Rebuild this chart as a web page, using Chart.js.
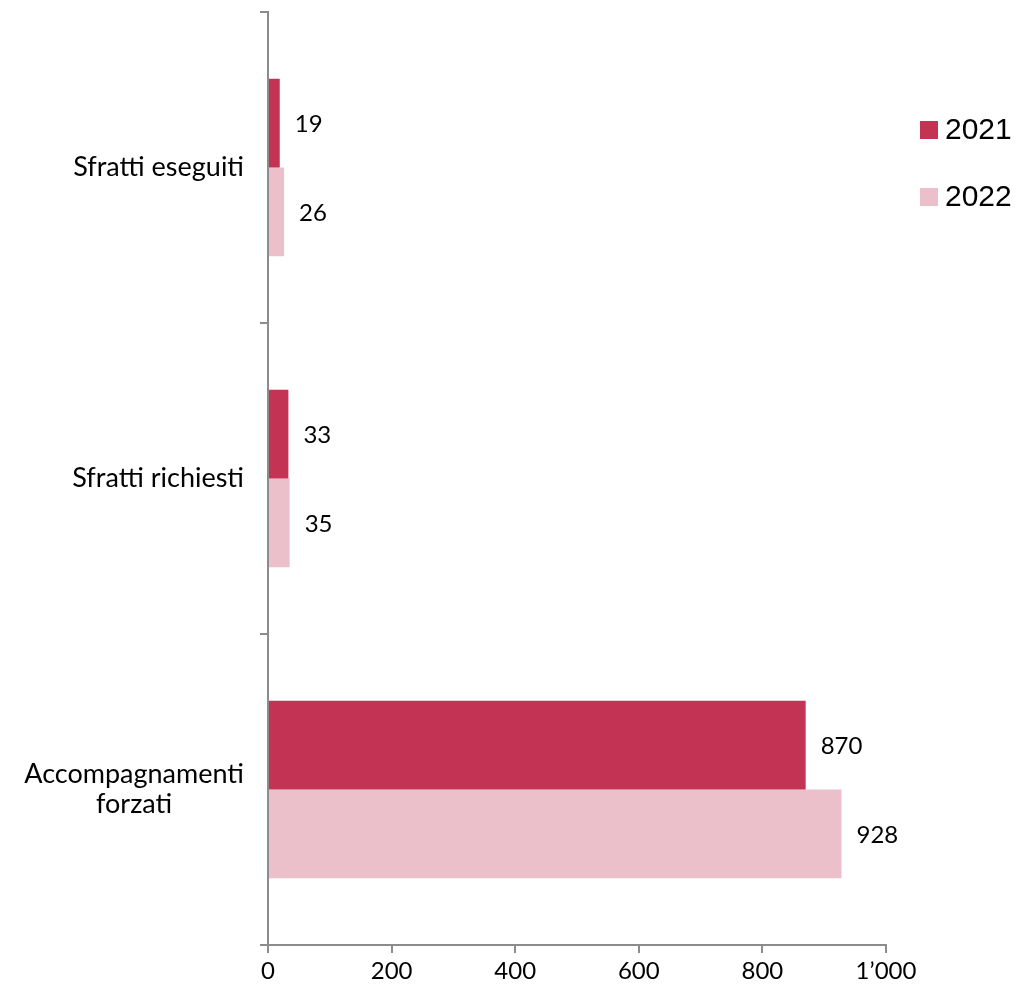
<!DOCTYPE html>
<html>
<head>
<meta charset="utf-8">
<script src="https://cdn.jsdelivr.net/npm/chart.js@4/dist/chart.umd.min.js"></script>
<style>
  html, body { margin: 0; padding: 0; background: #fff; }
  #wrap { width: 1021px; height: 990px; }
</style>
</head>
<body>
<div id="wrap"><canvas id="c" width="1021" height="990"></canvas></div>
<script>
const categories = [["Sfratti eseguiti"], ["Sfratti richiesti"], ["Accompagnamenti", "forzati"]];
const seriesNames = ["2021", "2022"];
const values2021 = [19, 33, 870];
const values2022 = [26, 35, 928];
const xTicks = [0, 200, 400, 600, 800, 1000];
const colors = ["#C33353", "#EBC0CB"];

const FONT = "Lato, 'Open Sans', sans-serif";
const CAT_FONT = "Lato, 'Open Sans', sans-serif";

const labelsPlugin = {
  id: 'customLabels',
  afterDraw(chart) {
    const ctx = chart.ctx;
    ctx.save();
    // data labels
    ctx.font = "24px " + FONT;
    ctx.fillStyle = "#000";
    ctx.textBaseline = "middle";
    ctx.textAlign = "left";
    chart.data.datasets.forEach((ds, di) => {
      const meta = chart.getDatasetMeta(di);
      meta.data.forEach((el, i) => {
        ctx.fillText(String(ds.data[i]), el.x + 15, el.y + 1);
      });
    });
    // category labels
    const ys = chart.scales.y;
    ctx.font = "27px " + CAT_FONT;
    ctx.textAlign = "center";
    categories.forEach((lines, i) => {
      const cy = ys.getPixelForValue(i);
      const widest = Math.max(...lines.map(l => ctx.measureText(l).width));
      const cx = 244 - widest / 2;
      const lh = 30;
      const y0 = cy - (lines.length - 1) * lh / 2;
      lines.forEach((l, k) => ctx.fillText(l, cx, y0 + k * lh));
    });
    // legend
    ctx.font = "30px 'Liberation Sans', Arial, sans-serif";
    ctx.textAlign = "left";
    const legY = [130, 197];
    seriesNames.forEach((n, i) => {
      ctx.fillStyle = colors[i];
      ctx.fillRect(920, legY[i] - 9, 18, 18);
      ctx.fillStyle = "#000";
      ctx.fillText(n, 945, legY[i] + 1);
    });
    ctx.restore();
  }
};

new Chart(document.getElementById('c'), {
  type: 'bar',
  data: {
    labels: categories.map(c => c.join(' ')),
    datasets: [
      { label: seriesNames[0], data: values2021, backgroundColor: colors[0] },
      { label: seriesNames[1], data: values2022, backgroundColor: colors[1] }
    ]
  },
  options: {
    indexAxis: 'y',
    responsive: false,
    animation: false,
    devicePixelRatio: 1,
    layout: { padding: { top: 12, right: 135, left: 0, bottom: 0 } },
    datasets: { bar: { categoryPercentage: 0.57, barPercentage: 1.0 } },
    plugins: { legend: { display: false }, tooltip: { enabled: false } },
    scales: {
      x: {
        type: 'linear',
        min: 0, max: 1000,
        afterBuildTicks(scale) { scale.ticks = xTicks.map(v => ({ value: v })); },
        afterFit(scale) { scale.height = 45; },
        ticks: {
          color: '#000',
          font: { family: FONT, size: 24 },
          padding: 4,
          maxRotation: 0,
          callback: v => v >= 1000 ? String(Math.floor(v / 1000)) + '\u2019' + String(v % 1000).padStart(3, '0') : String(v)
        },
        grid: { drawOnChartArea: false, drawTicks: true, tickLength: 8, color: '#8c8c8c', lineWidth: 2 },
        border: { color: '#8c8c8c', width: 2 }
      },
      y: {
        type: 'category',
        afterFit(scale) { scale.width = 268; },
        ticks: { display: false },
        grid: { offset: true, drawOnChartArea: false, drawTicks: true, tickLength: 8, color: '#8c8c8c', lineWidth: 2 },
        border: { color: '#8c8c8c', width: 2 }
      }
    }
  },
  plugins: [labelsPlugin]
});
</script>
</body>
</html>
